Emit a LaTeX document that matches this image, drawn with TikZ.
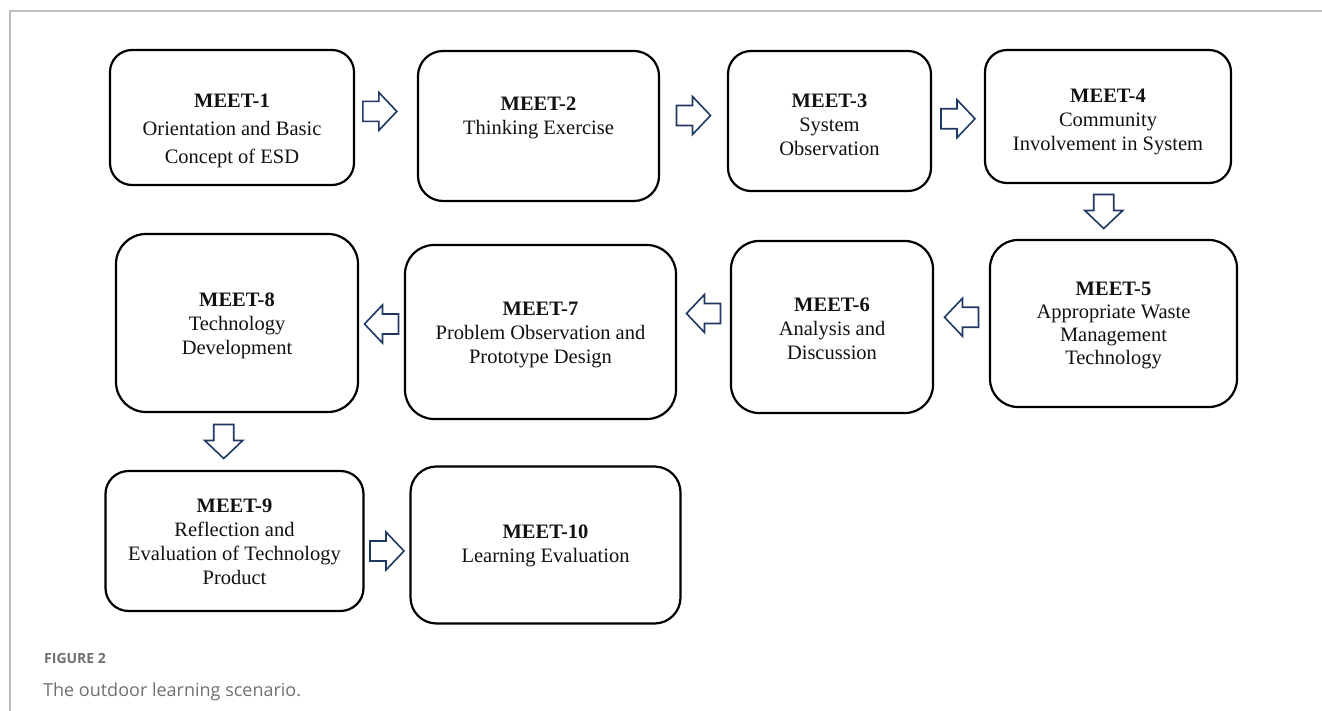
\documentclass[tikz,border=0pt]{standalone}
\usepackage{fontspec}
\setmainfont{Liberation Serif}
\newfontfamily\capfont{Open Sans}
\usetikzlibrary{calc}
\definecolor{arrowblue}{HTML}{203864}
\definecolor{framegray}{HTML}{BDBDBD}
\definecolor{capgray}{HTML}{707070}
\definecolor{boxtext}{HTML}{111111}
\tikzset{
  meetbox/.style={draw=black, line width=2.2pt, inner sep=0pt},
  meettext/.style={align=center, inner sep=0pt, text=boxtext,
    font=\fontsize{20.5}{24}\selectfont},
  barrow/.style={draw=arrowblue, line width=1.6pt, fill=white, line join=miter},
}
\newcommand\blockarrow[2]{\draw[barrow, shift={(#1)}, rotate=#2]
  (-17,-10) -- (-1,-10) -- (-1,-19) -- (17,0) -- (-1,19) -- (-1,10) -- (-17,10) -- cycle;}
\begin{document}
\begin{tikzpicture}[x=1pt,y=-1pt]
\useasboundingbox (0,0) rectangle (1322,711);
\fill[white] (0,0) rectangle (1322,711);
% frame
\draw[framegray, line width=1.8pt] (10,711) -- (10,11) -- (1322,11);

% boxes
\node[meetbox, minimum width=244pt, minimum height=135pt, rounded corners=22pt] (m1) at (232,117.5) {};
\node[meetbox, minimum width=241pt, minimum height=150pt, rounded corners=25pt] (m2) at (538.5,126) {};
\node[meetbox, minimum width=203pt, minimum height=140pt, rounded corners=23pt] (m3) at (829.5,121) {};
\node[meetbox, minimum width=246pt, minimum height=133pt, rounded corners=22pt] (m4) at (1108,116.5) {};
\node[meetbox, minimum width=247pt, minimum height=167pt, rounded corners=28pt] (m5) at (1113.5,323.5) {};
\node[meetbox, minimum width=202pt, minimum height=172pt, rounded corners=28pt] (m6) at (832,327) {};
\node[meetbox, minimum width=271pt, minimum height=174pt, rounded corners=29pt] (m7) at (540.5,332) {};
\node[meetbox, minimum width=242pt, minimum height=178pt, rounded corners=30pt] (m8) at (237,323) {};
\node[meetbox, minimum width=258pt, minimum height=140pt, rounded corners=23pt] (m9) at (234.5,541) {};
\node[meetbox, minimum width=270pt, minimum height=157pt, rounded corners=26pt] (m10) at (545.5,545) {};

% texts
\node[meettext, font=\fontsize{20.5}{28}\selectfont] (t1) at ($(m1.center)+(0,13.5)$) {\textbf{MEET-1}\\Orientation and Basic\\Concept of ESD};
\node[meettext] (t2) at ($(m2.center)+(0,-8)$) {\textbf{MEET-2}\\Thinking Exercise};
\node[meettext] (t3) at ($(m3.center)+(0,3.5)$) {\textbf{MEET-3}\\System\\Observation};
\node[meettext] (t4) at ($(m4.center)+(0,5)$) {\textbf{MEET-4}\\Community\\Involvement in System};
\node[meettext, font=\fontsize{20.5}{23}\selectfont] (t5) at ($(m5.center)+(0,1.5)$) {\textbf{MEET-5}\\Appropriate Waste\\Management\\Technology};
\node[meettext] (t6) at ($(m6.center)+(0,1.5)$) {\textbf{MEET-6}\\Analysis and\\Discussion};
\node[meettext] (t7) at ($(m7.center)+(0,2.5)$) {\textbf{MEET-7}\\Problem Observation and\\Prototype Design};
\node[meettext] (t8) at ($(m8.center)+(0,2.5)$) {\textbf{MEET-8}\\Technology\\Development};
\node[meettext] (t9) at ($(m9.center)+(0,1)$) {\textbf{MEET-9}\\Reflection and\\Evaluation of Technology\\Product};
\node[meettext] (t10) at ($(m10.center)+(0,1)$) {\textbf{MEET-10}\\Learning Evaluation};

% block arrows between boxes
\coordinate (a12) at ($(m1.east)!0.4!(m2.west) + (0,-9.5)$);
\coordinate (a23) at ($(m2.east)!0.5!(m3.west) + (0,-8)$);
\coordinate (a34) at ($(m3.east)!0.5!(m4.west) + (0,0)$);
\coordinate (a45) at ($(m4.south)!0.5!(m5.north) + (-7,0)$);
\coordinate (a56) at ($(m5.west)!0.5!(m6.east) + (0,-8)$);
\coordinate (a67) at ($(m6.west)!0.5!(m7.east) + (0,-16)$);
\coordinate (a78) at ($(m7.west)!0.5!(m8.east) + (0,-3.5)$);
\coordinate (a89) at ($(m8.south)!0.5!(m9.north) + (-12,0)$);
\coordinate (a910) at ($(m9.east)!0.5!(m10.west) + (0,8)$);
\blockarrow{a12}{0}
\blockarrow{a23}{0}
\blockarrow{a34}{0}
\blockarrow{a45}{-90}
\blockarrow{a56}{180}
\blockarrow{a67}{180}
\blockarrow{a78}{180}
\blockarrow{a89}{-90}
\blockarrow{a910}{0}

% caption
\node[anchor=base west, inner sep=0pt, text=capgray, font=\capfont\bfseries\fontsize{14}{16}\selectfont] (fig) at (44,663) {FIGURE 2};
\node[anchor=base west, inner sep=0pt, text=capgray, font=\capfont\fontsize{18}{22}\selectfont] (cap) at (43,696) {The outdoor learning scenario.};
\end{tikzpicture}
\end{document}
